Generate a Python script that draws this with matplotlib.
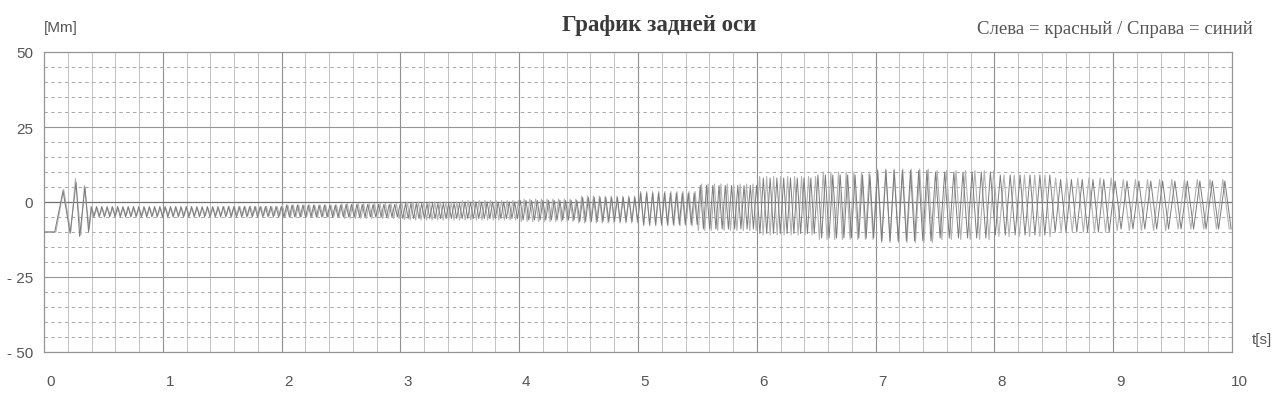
import numpy as np
import matplotlib
matplotlib.use("Agg")
import matplotlib.pyplot as plt
from matplotlib.transforms import ScaledTranslation

# ---------------- data ----------------
x_ticks = [0, 1, 2, 3, 4, 5, 6, 7, 8, 9, 10]
x_labels = ["0", "1", "2", "3", "4", "5", "6", "7", "8", "9", "10"]
y_ticks = [-50, -25, 0, 25, 50]
y_labels = ["- 50", "- 25", "0", "25", "50"]

# initial transient (explicit extremes)
left_start_t = [0.0, 0.09, 0.16, 0.22, 0.27, 0.30, 0.345, 0.375]
left_start_v = [-10.0, -10.0, 3.7, -10.5, 6.5, -11.5, 5.0, -10.0]
right_start_t = [0.0, 0.10, 0.165, 0.225, 0.265, 0.31, 0.34, 0.38]
right_start_v = [-10.0, -10.0, 4.2, -10.0, 7.8, -11.0, 5.5, -9.0]

# oscillation segments: edges [s], cycles per second, upper / lower extreme level
seg_edges = [0.38, 1.0, 1.5, 2.0, 2.5, 3.0, 3.5, 4.0, 4.5, 5.0, 5.5,
             6.0, 6.5, 7.0, 7.5, 8.0, 8.5, 9.0, 9.5, 10.0]
left_freq = [22.5, 22.5, 22.5, 22, 22, 22, 21.5, 21, 20.5, 20, 19,
             17.5, 16, 14.5, 13, 12, 11, 10, 9.5]
left_upper = [-1.5, -1.5, -1.5, -1.0, -0.8, -0.5, 0.0, 0.5, 1.5, 3.0, 5.5,
              8.0, 9.0, 10.5, 10.0, 9.0, 7.5, 7.0, 7.0]
left_lower = [-5.0, -5.0, -5.0, -5.0, -5.0, -5.5, -5.5, -6.0, -6.5, -7.5, -9.0,
              -10.5, -12.0, -13.0, -12.0, -11.0, -10.0, -9.0, -9.0]
right_freq = [22.5, 22.5, 22.3, 22, 21.8, 21.6, 21.2, 20.7, 20.2, 19.6, 18.5,
              17, 15.5, 14, 12.6, 11.6, 10.7, 9.8, 9.3]
right_upper = [-2.0, -2.0, -1.5, -1.0, -0.5, 0.0, 0.5, 1.0, 2.0, 3.5, 6.0,
               8.5, 10.0, 11.0, 10.5, 9.0, 8.0, 7.5, 7.5]
right_lower = [-4.5, -4.5, -4.5, -5.0, -5.5, -6.0, -6.0, -6.5, -7.0, -8.0, -9.5,
               -11.0, -12.5, -13.5, -12.5, -11.5, -10.0, -9.5, -9.0]


def build(start_t, start_v, freq, upper, lower):
    ts = list(start_t)
    vs = list(start_v)
    t = start_t[-1]
    high = True
    for i in range(len(freq)):
        a, b = seg_edges[i], seg_edges[i + 1]
        h = 0.5 / freq[i]
        while t + h <= b + 1e-9:
            t += h
            ts.append(t)
            vs.append(upper[i] if high else lower[i])
            high = not high
    return np.array(ts), np.array(vs)


lt, lv = build(left_start_t, left_start_v, left_freq, left_upper, left_lower)
rt, rv = build(right_start_t, right_start_v, right_freq, right_upper, right_lower)

# ---------------- figure ----------------
fig = plt.figure(figsize=(12.8, 4.1), dpi=100)
ax = fig.add_axes([44 / 1280, 57 / 410, 1188 / 1280, 300 / 410])
ax.set_xlim(0, 10)
ax.set_ylim(-50, 50)

# grid
for xv in np.arange(0.2, 10.0, 0.2):
    major = abs(xv - round(xv)) < 1e-6
    ax.axvline(xv, color="#909090" if major else "#b8b8b8",
               lw=0.8 if major else 0.6, zorder=1)
for yv in np.arange(-45, 50, 5):
    if yv == 0:
        ax.axhline(yv, color="#707070", lw=0.9, zorder=1)
    elif yv % 25 == 0:
        ax.axhline(yv, color="#959595", lw=0.8, zorder=1)
    else:
        ax.axhline(yv, color="#a8a8a8", lw=0.7, ls=(0, (3.5, 3.5)), zorder=1)

ax.plot(rt, rv, color="#b4b4b4", lw=0.8, zorder=2)
ax.plot(lt, lv, color="#7c7c7c", lw=0.7, zorder=3)

for s in ax.spines.values():
    s.set_color("#959595")
    s.set_linewidth(0.9)

lab_font = dict(family=["Liberation Sans", "DejaVu Sans"], size=11)
ax.set_xticks(x_ticks)
ax.set_xticklabels(x_labels, color="#555555", **lab_font)
ax.set_yticks(y_ticks)
ax.set_yticklabels(y_labels, color="#555555", **lab_font)
ax.tick_params(axis="x", length=0, pad=16)
ax.tick_params(axis="y", length=0, pad=8)
off = ScaledTranslation(7 / 100, 0, fig.dpi_scale_trans)
for lbl in ax.get_xticklabels():
    lbl.set_transform(lbl.get_transform() + off)

fig.text(44 / 1280, 1 - 28 / 410, "[Mm]", ha="left", va="center",
         color="#555555", **lab_font)
fig.text(1252 / 1280, 1 - 340 / 410, "t[s]", ha="left", va="center",
         color="#555555", **lab_font)
fig.text(659 / 1280, 1 - 25 / 410, "График задней оси", ha="center", va="center",
         family=["Liberation Serif", "DejaVu Serif"], weight="bold", size=16.5,
         color="#3a3a3a")
fig.text(1253 / 1280, 1 - 30 / 410, "Слева = красный / Справа = синий",
         ha="right", va="center", family=["Liberation Serif", "DejaVu Serif"],
         size=13.5, color="#555555")

fig.savefig("out.png", dpi=100)
